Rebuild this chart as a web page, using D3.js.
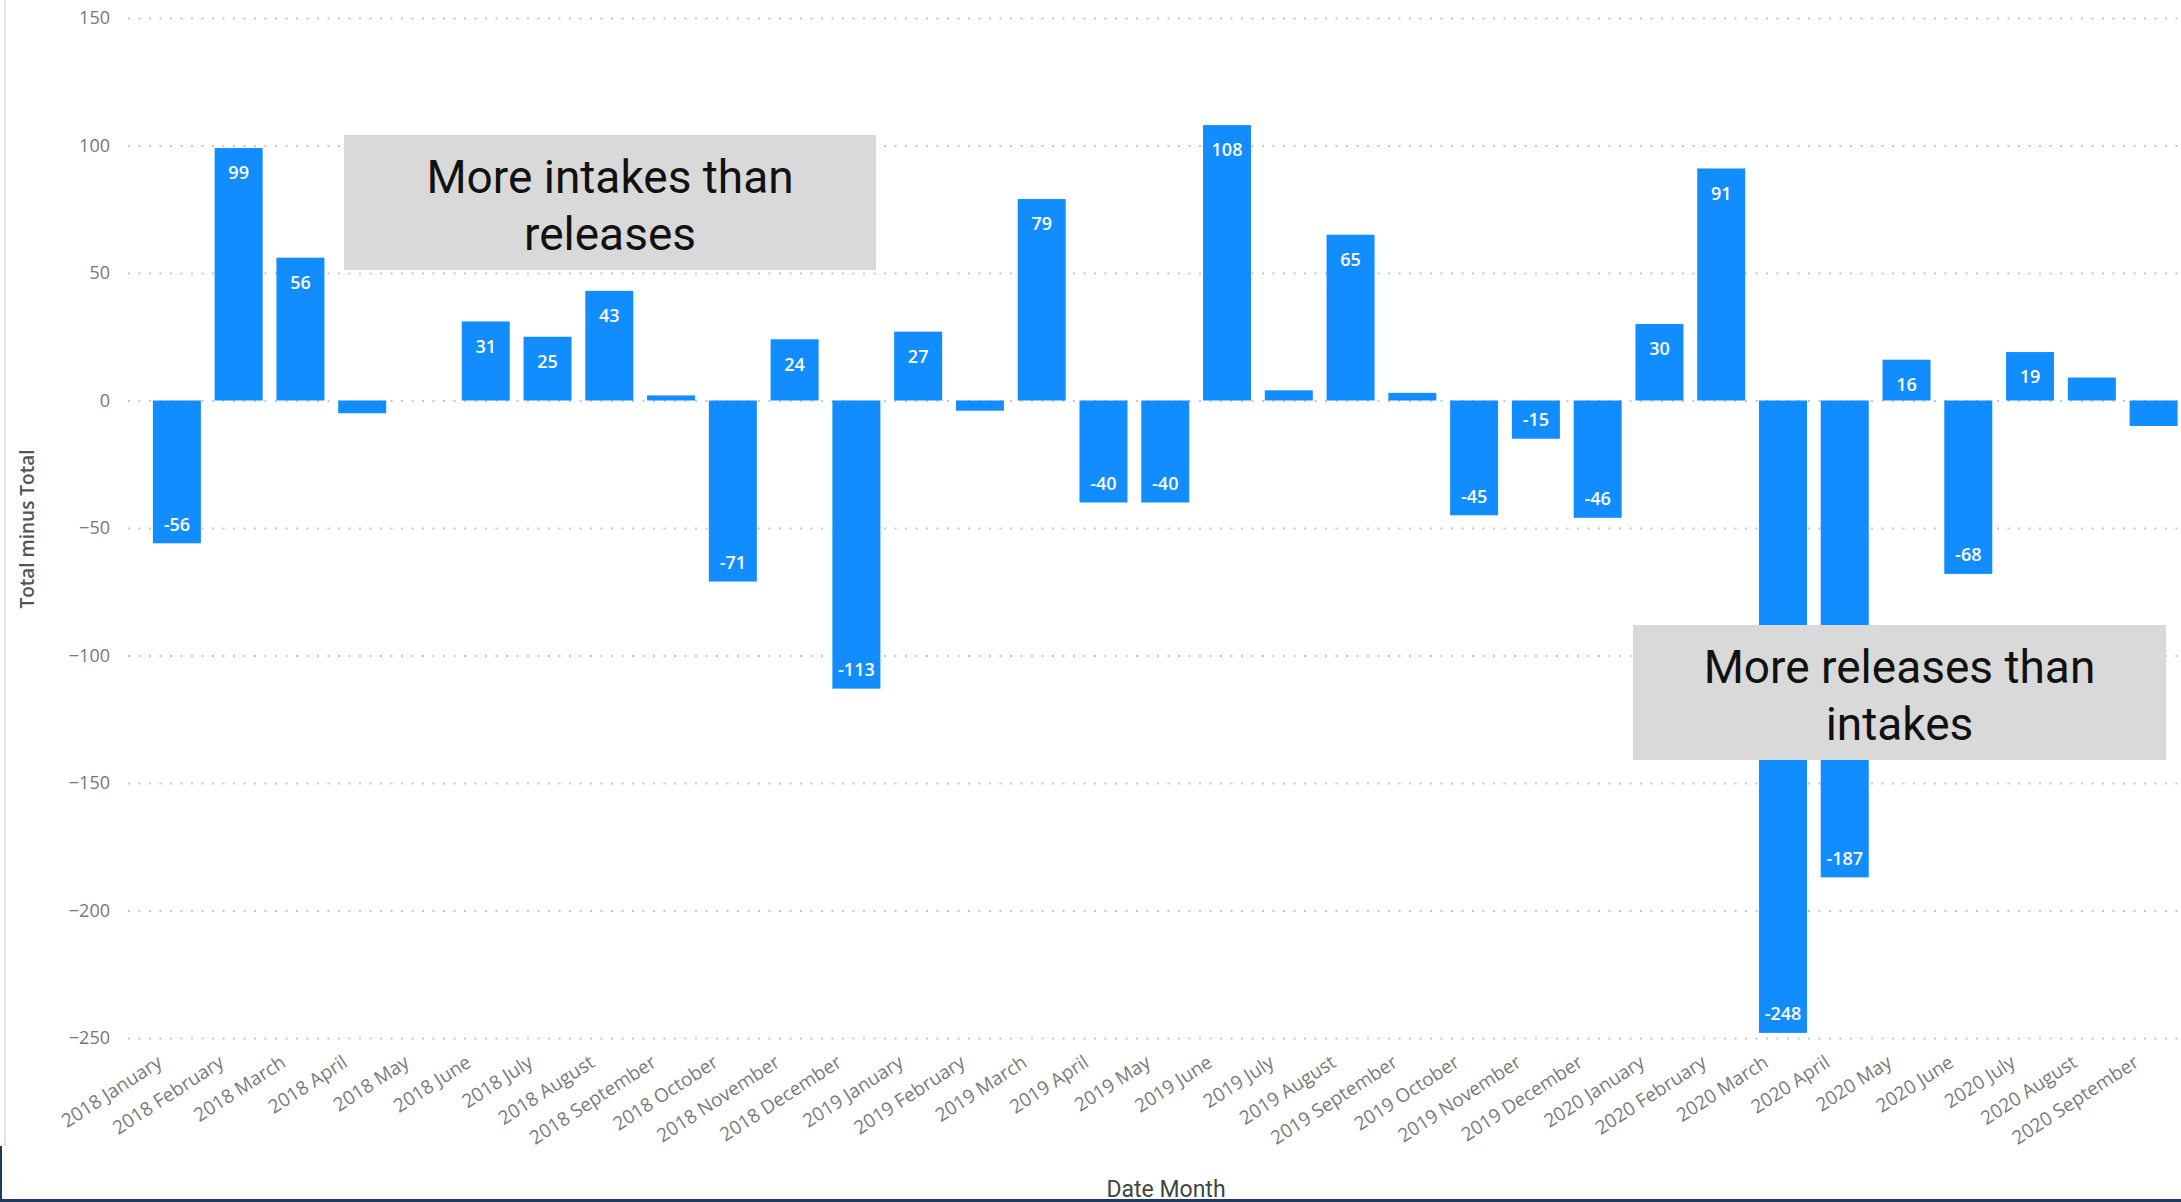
<!DOCTYPE html>
<html>
<head>
<meta charset="utf-8">
<script src="https://cdn.jsdelivr.net/npm/d3@7"></script>
<style>
  body { margin: 0; background: #fff; }
  svg { display: block; }
</style>
</head>
<body>
<svg id="chart" width="2181" height="1202"></svg>
<script>
// months on the x axis
const months = [
  "2018 January", "2018 February", "2018 March", "2018 April", "2018 May", "2018 June",
  "2018 July", "2018 August", "2018 September", "2018 October", "2018 November", "2018 December",
  "2019 January", "2019 February", "2019 March", "2019 April", "2019 May", "2019 June",
  "2019 July", "2019 August", "2019 September", "2019 October", "2019 November", "2019 December",
  "2020 January", "2020 February", "2020 March", "2020 April", "2020 May", "2020 June",
  "2020 July", "2020 August", "2020 September"
];
// Total minus Total (intakes minus releases)
const values = [
  -56, 99, 56, -5, 0, 31,
  25, 43, 2, -71, 24, -113,
  27, -4, 79, -40, -40, 108,
  4, 65, 3, -45, -15, -46,
  30, 91, -248, -187, 16, -68,
  19, 9, -10
];
const yTicks = [150, 100, 50, 0, -50, -100, -150, -200, -250];
const noteIntakes = ["More intakes than", "releases"];
const noteReleases = ["More releases than", "intakes"];

const W = 2181, H = 1202;
const left = 128, axisY = 1038;
const svg = d3.select("#chart");
const bars = months.map((m, i) => ({ month: m, value: values[i] }));

// scales
const x = d3.scaleBand()
  .domain(months)
  .range([146, 2184.5])
  .paddingInner(0.223)
  .paddingOuter(0.1115);

const y = d3.scaleLinear()
  .domain([-250, 150])
  .range([axisY, 18]);

// frame bits of the report page
svg.append("line")
  .attr("x1", 5).attr("x2", 5).attr("y1", 0).attr("y2", 1146)
  .attr("stroke", "#e3e3e3").attr("stroke-width", 2);
svg.append("line")
  .attr("x1", 1).attr("x2", 1).attr("y1", 1146).attr("y2", H)
  .attr("stroke", "#1f3a5f").attr("stroke-width", 2);
svg.append("line")
  .attr("x1", 0).attr("x2", W).attr("y1", 1200.5).attr("y2", 1200.5)
  .attr("stroke", "#1f3a5f").attr("stroke-width", 3);

// y axis + dotted gridlines
const yAxis = d3.axisLeft(y)
  .tickValues(yTicks)
  .tickSize(-(W - left))
  .tickPadding(18);
const gy = svg.append("g")
  .attr("transform", `translate(${left},0)`)
  .call(yAxis);
gy.select(".domain").remove();
gy.selectAll(".tick line")
  .attr("stroke", "#c6c6c6")
  .attr("stroke-width", 2)
  .attr("stroke-dasharray", "2,8.5");
gy.selectAll(".tick text")
  .attr("fill", "#777")
  .style("font-family", "'Open Sans', 'Noto Sans', sans-serif")
  .style("font-size", "18px");

// x axis, rotated labels
const xAxis = d3.axisBottom(x).tickSize(0);
const gx = svg.append("g")
  .attr("transform", `translate(0,${axisY})`)
  .call(xAxis);
gx.select(".domain").remove();
gx.selectAll(".tick text")
  .attr("x", 0).attr("y", 0).attr("dy", "0.35em")
  .attr("text-anchor", "end")
  .attr("transform", "translate(-17,22) rotate(-33)")
  .attr("fill", "#7a7a7a")
  .style("font-family", "'Open Sans', 'Noto Sans', sans-serif")
  .style("font-size", "19px");

// bars
svg.append("g")
  .selectAll("rect")
  .data(bars)
  .join("rect")
  .attr("x", d => x(d.month))
  .attr("width", x.bandwidth())
  .attr("y", d => y(Math.max(d.value, 0)))
  .attr("height", d => Math.abs(y(d.value) - y(0)))
  .attr("fill", "#118DFF");

// data labels inside the bars (only where they fit)
svg.append("g")
  .selectAll("text")
  .data(bars.filter(d => Math.abs(y(d.value) - y(0)) > 30))
  .join("text")
  .attr("x", d => x(d.month) + x.bandwidth() / 2)
  .attr("y", d => d.value > 0 ? y(d.value) + 25 : y(d.value) - 19)
  .attr("dy", "0.35em")
  .attr("text-anchor", "middle")
  .attr("fill", "#fff")
  .style("font-family", "'Open Sans', 'Noto Sans', sans-serif")
  .style("font-size", "18px")
  .style("font-weight", 600)
  .text(d => d.value);

// axis titles
svg.append("text")
  .attr("transform", "translate(34,529) rotate(-90)")
  .attr("text-anchor", "middle")
  .attr("fill", "#555")
  .style("font-family", "'Open Sans', 'Noto Sans', sans-serif")
  .style("font-size", "19px")
  .style("font-weight", 600)
  .text("Total minus Total");

svg.append("text")
  .attr("x", 1166).attr("y", 1197)
  .attr("text-anchor", "middle")
  .attr("fill", "#444")
  .style("font-family", "Roboto, sans-serif")
  .style("font-size", "23px")
  .text("Date Month");

// annotation boxes
function note(x0, x1, y0, y1, lines) {
  const g = svg.append("g");
  g.append("rect")
    .attr("x", x0).attr("y", y0)
    .attr("width", x1 - x0).attr("height", y1 - y0)
    .attr("fill", "#d9d9d9");
  g.selectAll("text")
    .data(lines)
    .join("text")
    .attr("x", (x0 + x1) / 2)
    .attr("y", (d, i) => y0 + 42 + i * 57)
    .attr("dy", "0.35em")
    .attr("text-anchor", "middle")
    .attr("fill", "#111")
    .style("font-family", "Roboto, 'Liberation Sans', sans-serif")
    .style("font-size", "46px")
    .text(d => d);
}
note(344, 876, 135, 270, noteIntakes);
note(1633, 2166, 625, 760, noteReleases);
</script>
</body>
</html>
